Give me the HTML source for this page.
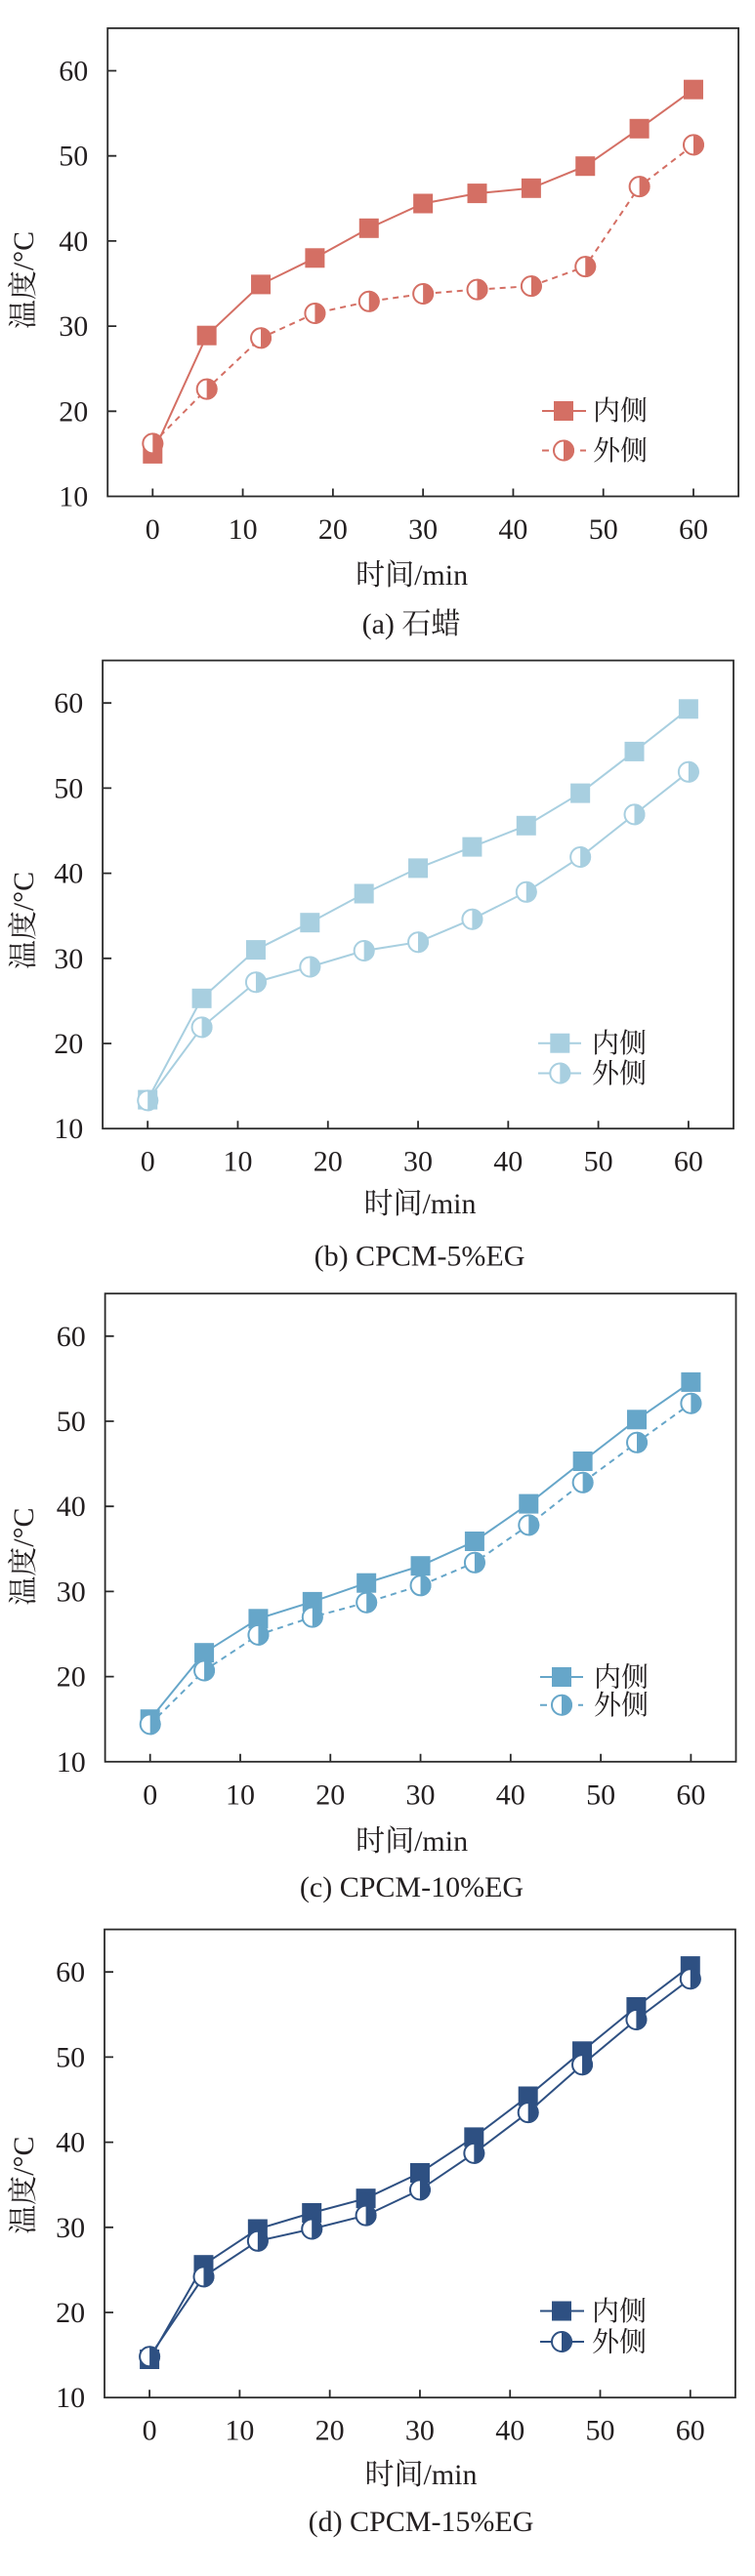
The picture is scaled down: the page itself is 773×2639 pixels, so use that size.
<!DOCTYPE html>
<html>
<head>
<meta charset="utf-8">
<style>
html,body{margin:0;padding:0;background:#fff;}
svg{display:block;}
text{font-family:"Liberation Serif","Noto Serif CJK SC",serif;fill:#231f20;}
.tk{font-size:30px;}
.lab{font-size:30px;}
.leg{font-size:28px;}
.fr{fill:none;stroke:#2a2a2a;stroke-width:1.8;}
.tick{stroke:#2a2a2a;stroke-width:1.8;}
</style>
</head>
<body>
<svg width="773" height="2639" viewBox="0 0 773 2639" xmlns="http://www.w3.org/2000/svg">
<defs>
  <g id="sqA"><rect x="-10" y="-10" width="20" height="20" fill="#d46f64"/></g>
  <g id="ciA"><circle r="10" fill="#fff" stroke="#d46f64" stroke-width="2"/><path d="M0,-11 A11,11 0 0 1 0,11 Z" fill="#d46f64"/></g>
  <g id="sqB"><rect x="-10" y="-10" width="20" height="20" fill="#a8cfe0"/></g>
  <g id="ciB"><circle r="10" fill="#fff" stroke="#a8cfe0" stroke-width="2"/><path d="M0,-11 A11,11 0 0 1 0,11 Z" fill="#a8cfe0"/></g>
  <g id="sqC"><rect x="-10" y="-10" width="20" height="20" fill="#66a6c9"/></g>
  <g id="ciC"><circle r="10" fill="#fff" stroke="#66a6c9" stroke-width="2"/><path d="M0,-11 A11,11 0 0 1 0,11 Z" fill="#66a6c9"/></g>
  <g id="sqD"><rect x="-10" y="-10" width="20" height="20" fill="#2e5082"/></g>
  <g id="ciD"><circle r="10" fill="#fff" stroke="#2e5082" stroke-width="2"/><path d="M0,-11 A11,11 0 0 1 0,11 Z" fill="#2e5082"/></g>
  <g id="axes">
    <rect class="fr" x="-46.1" y="-479.6" width="645.9" height="479.6"/>
    <path class="tick" d="M-46.1,-87.2h9M-46.1,-174.4h9M-46.1,-261.6h9M-46.1,-348.8h9M-46.1,-436h9"/>
    <path class="tick" d="M0,0v-8M92.28,0v-8M184.56,0v-8M276.84,0v-8M369.12,0v-8M461.4,0v-8M553.68,0v-8"/>
    <g class="tk" text-anchor="end">
      <text x="-66" y="10">10</text>
      <text x="-66" y="-77.2">20</text>
      <text x="-66" y="-164.4">30</text>
      <text x="-66" y="-251.6">40</text>
      <text x="-66" y="-338.8">50</text>
      <text x="-66" y="-426">60</text>
    </g>
    <g class="tk" text-anchor="middle">
      <text x="0" y="43.5">0</text>
      <text x="92.28" y="43.5">10</text>
      <text x="184.56" y="43.5">20</text>
      <text x="276.84" y="43.5">30</text>
      <text x="369.12" y="43.5">40</text>
      <text x="461.4" y="43.5">50</text>
      <text x="553.68" y="43.5">60</text>
    </g>
  </g>
</defs>

<!-- Panel A -->
<g transform="translate(156.3,508.5)">
  <use href="#axes"/>
  <polyline fill="none" stroke="#d46f64" stroke-width="2" points="0,-43.6 55.37,-164.8 110.74,-217.1 166.1,-244.2 221.47,-274.7 276.84,-300 332.21,-310.4 387.58,-315.7 442.94,-338.3 498.31,-376.7 553.68,-416.8"/>
  <use href="#sqA" x="0" y="-43.6"/><use href="#sqA" x="55.37" y="-164.8"/><use href="#sqA" x="110.74" y="-217.1"/><use href="#sqA" x="166.1" y="-244.2"/><use href="#sqA" x="221.47" y="-274.7"/><use href="#sqA" x="276.84" y="-300"/><use href="#sqA" x="332.21" y="-310.4"/><use href="#sqA" x="387.58" y="-315.7"/><use href="#sqA" x="442.94" y="-338.3"/><use href="#sqA" x="498.31" y="-376.7"/><use href="#sqA" x="553.68" y="-416.8"/>
  <polyline fill="none" stroke="#d46f64" stroke-width="2" stroke-dasharray="6,5" points="0,-54.1 55.37,-109.9 110.74,-162.2 166.1,-187.5 221.47,-199.7 276.84,-207.5 332.21,-211.9 387.58,-215.4 442.94,-235.4 498.31,-317.4 553.68,-360.1"/>
  <use href="#ciA" x="0" y="-54.1"/><use href="#ciA" x="55.37" y="-109.9"/><use href="#ciA" x="110.74" y="-162.2"/><use href="#ciA" x="166.1" y="-187.5"/><use href="#ciA" x="221.47" y="-199.7"/><use href="#ciA" x="276.84" y="-207.5"/><use href="#ciA" x="332.21" y="-211.9"/><use href="#ciA" x="387.58" y="-215.4"/><use href="#ciA" x="442.94" y="-235.4"/><use href="#ciA" x="498.31" y="-317.4"/><use href="#ciA" x="553.68" y="-360.1"/>
</g>
<line x1="555" y1="421" x2="600" y2="421" stroke="#d46f64" stroke-width="2"/>
<use href="#sqA" x="577" y="421"/>
<text class="leg" x="607" y="430">内侧</text>
<line x1="555" y1="461.5" x2="600" y2="461.5" stroke="#d46f64" stroke-width="2" stroke-dasharray="7,6"/>
<use href="#ciA" x="577" y="461.5"/>
<text class="leg" x="607" y="471">外侧</text>
<text class="lab" text-anchor="middle" transform="translate(34,287) rotate(-90)">温度/°C</text>
<text class="lab" text-anchor="middle" x="421.6" y="599">时间/min</text>
<text class="lab" text-anchor="middle" x="421" y="649">(a) 石蜡</text>

<!-- Panel B -->
<g transform="translate(151.2,1156.2)">
  <use href="#axes"/>
  <polyline fill="none" stroke="#a8cfe0" stroke-width="2" points="0,-29.6 55.37,-133.4 110.74,-183.1 166.1,-211 221.47,-240.7 276.84,-266.8 332.21,-288.6 387.58,-310.4 442.94,-343.6 498.31,-386.3 553.68,-429.9"/>
  <use href="#sqB" x="0" y="-29.6"/><use href="#sqB" x="55.37" y="-133.4"/><use href="#sqB" x="110.74" y="-183.1"/><use href="#sqB" x="166.1" y="-211"/><use href="#sqB" x="221.47" y="-240.7"/><use href="#sqB" x="276.84" y="-266.8"/><use href="#sqB" x="332.21" y="-288.6"/><use href="#sqB" x="387.58" y="-310.4"/><use href="#sqB" x="442.94" y="-343.6"/><use href="#sqB" x="498.31" y="-386.3"/><use href="#sqB" x="553.68" y="-429.9"/>
  <polyline fill="none" stroke="#a8cfe0" stroke-width="2" points="0,-28.8 55.37,-103.8 110.74,-150 166.1,-165.7 221.47,-182.2 276.84,-191 332.21,-214.5 387.58,-242.4 442.94,-278.2 498.31,-321.8 553.68,-365.4"/>
  <use href="#ciB" x="0" y="-28.8"/><use href="#ciB" x="55.37" y="-103.8"/><use href="#ciB" x="110.74" y="-150"/><use href="#ciB" x="166.1" y="-165.7"/><use href="#ciB" x="221.47" y="-182.2"/><use href="#ciB" x="276.84" y="-191"/><use href="#ciB" x="332.21" y="-214.5"/><use href="#ciB" x="387.58" y="-242.4"/><use href="#ciB" x="442.94" y="-278.2"/><use href="#ciB" x="498.31" y="-321.8"/><use href="#ciB" x="553.68" y="-365.4"/>
</g>
<line x1="551" y1="1068.7" x2="595" y2="1068.7" stroke="#a8cfe0" stroke-width="2"/>
<use href="#sqB" x="573.3" y="1068.7"/>
<text class="leg" x="606" y="1078">内侧</text>
<line x1="551" y1="1099.5" x2="595" y2="1099.5" stroke="#a8cfe0" stroke-width="2"/>
<use href="#ciB" x="573.3" y="1099.5"/>
<text class="leg" x="606" y="1109">外侧</text>
<text class="lab" text-anchor="middle" transform="translate(34,943) rotate(-90)">温度/°C</text>
<text class="lab" text-anchor="middle" x="430" y="1243">时间/min</text>
<text class="lab" text-anchor="middle" x="429.5" y="1296.5">(b) CPCM-5%EG</text>

<!-- Panel C -->
<g transform="translate(153.7,1804.8)">
  <use href="#axes"/>
  <polyline fill="none" stroke="#66a6c9" stroke-width="2" points="0,-43.6 55.37,-111.6 110.74,-146.5 166.1,-163.9 221.47,-183.1 276.84,-200.6 332.21,-225.8 387.58,-264.2 442.94,-307.8 498.31,-350.5 553.68,-388.9"/>
  <use href="#sqC" x="0" y="-43.6"/><use href="#sqC" x="55.37" y="-111.6"/><use href="#sqC" x="110.74" y="-146.5"/><use href="#sqC" x="166.1" y="-163.9"/><use href="#sqC" x="221.47" y="-183.1"/><use href="#sqC" x="276.84" y="-200.6"/><use href="#sqC" x="332.21" y="-225.8"/><use href="#sqC" x="387.58" y="-264.2"/><use href="#sqC" x="442.94" y="-307.8"/><use href="#sqC" x="498.31" y="-350.5"/><use href="#sqC" x="553.68" y="-388.9"/>
  <polyline fill="none" stroke="#66a6c9" stroke-width="2" stroke-dasharray="6,5" points="0,-38.4 55.37,-93.3 110.74,-129.9 166.1,-148.2 221.47,-163.1 276.84,-180.5 332.21,-204 387.58,-242.4 442.94,-286 498.31,-327 553.68,-367.1"/>
  <use href="#ciC" x="0" y="-38.4"/><use href="#ciC" x="55.37" y="-93.3"/><use href="#ciC" x="110.74" y="-129.9"/><use href="#ciC" x="166.1" y="-148.2"/><use href="#ciC" x="221.47" y="-163.1"/><use href="#ciC" x="276.84" y="-180.5"/><use href="#ciC" x="332.21" y="-204"/><use href="#ciC" x="387.58" y="-242.4"/><use href="#ciC" x="442.94" y="-286"/><use href="#ciC" x="498.31" y="-327"/><use href="#ciC" x="553.68" y="-367.1"/>
</g>
<line x1="553" y1="1718" x2="597" y2="1718" stroke="#66a6c9" stroke-width="2"/>
<use href="#sqC" x="575" y="1718"/>
<text class="leg" x="608" y="1727.5">内侧</text>
<line x1="553" y1="1746.7" x2="597" y2="1746.7" stroke="#66a6c9" stroke-width="2" stroke-dasharray="7,6"/>
<use href="#ciC" x="575" y="1746.7"/>
<text class="leg" x="608" y="1756">外侧</text>
<text class="lab" text-anchor="middle" transform="translate(34,1594.6) rotate(-90)">温度/°C</text>
<text class="lab" text-anchor="middle" x="421.6" y="1896">时间/min</text>
<text class="lab" text-anchor="middle" x="421.5" y="1943">(c) CPCM-10%EG</text>

<!-- Panel D -->
<g transform="translate(153.1,2456.2)">
  <use href="#axes"/>
  <polyline fill="none" stroke="#2e5082" stroke-width="2" points="0,-39.2 55.37,-136 110.74,-172.7 166.1,-189.2 221.47,-204 276.84,-230.2 332.21,-266.8 387.58,-308.7 442.94,-354.9 498.31,-400.2 553.68,-442.1"/>
  <use href="#sqD" x="0" y="-39.2"/><use href="#sqD" x="55.37" y="-136"/><use href="#sqD" x="110.74" y="-172.7"/><use href="#sqD" x="166.1" y="-189.2"/><use href="#sqD" x="221.47" y="-204"/><use href="#sqD" x="276.84" y="-230.2"/><use href="#sqD" x="332.21" y="-266.8"/><use href="#sqD" x="387.58" y="-308.7"/><use href="#sqD" x="442.94" y="-354.9"/><use href="#sqD" x="498.31" y="-400.2"/><use href="#sqD" x="553.68" y="-442.1"/>
  <polyline fill="none" stroke="#2e5082" stroke-width="2" points="0,-41.9 55.37,-123.8 110.74,-160.4 166.1,-172.7 221.47,-186.6 276.84,-212.8 332.21,-250.3 387.58,-292.1 442.94,-341 498.31,-387.2 553.68,-429"/>
  <use href="#ciD" x="0" y="-41.9"/><use href="#ciD" x="55.37" y="-123.8"/><use href="#ciD" x="110.74" y="-160.4"/><use href="#ciD" x="166.1" y="-172.7"/><use href="#ciD" x="221.47" y="-186.6"/><use href="#ciD" x="276.84" y="-212.8"/><use href="#ciD" x="332.21" y="-250.3"/><use href="#ciD" x="387.58" y="-292.1"/><use href="#ciD" x="442.94" y="-341"/><use href="#ciD" x="498.31" y="-387.2"/><use href="#ciD" x="553.68" y="-429"/>
</g>
<line x1="553" y1="2367.5" x2="598" y2="2367.5" stroke="#2e5082" stroke-width="2"/>
<use href="#sqD" x="575" y="2367.5"/>
<text class="leg" x="606" y="2377">内侧</text>
<line x1="553" y1="2399" x2="598" y2="2399" stroke="#2e5082" stroke-width="2"/>
<use href="#ciD" x="575" y="2399"/>
<text class="leg" x="606" y="2408.5">外侧</text>
<text class="lab" text-anchor="middle" transform="translate(34,2238.7) rotate(-90)">温度/°C</text>
<text class="lab" text-anchor="middle" x="431" y="2545">时间/min</text>
<text class="lab" text-anchor="middle" x="431" y="2593">(d) CPCM-15%EG</text>
</svg>
</body>
</html>
